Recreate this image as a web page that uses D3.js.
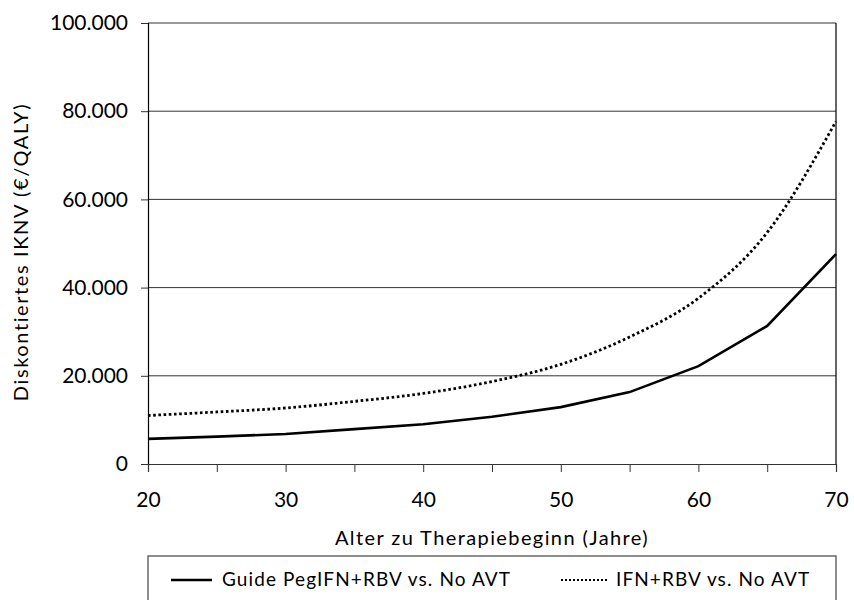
<!DOCTYPE html>
<html>
<head>
<meta charset="utf-8">
<script src="https://cdn.jsdelivr.net/npm/d3@7"></script>
<style>
  body { margin: 0; background: #fff; }
  text { font-family: Lato, "Open Sans", sans-serif; fill: #000; }
</style>
</head>
<body>
<div id="chart"></div>
<script>
// Alter zu Therapiebeginn (Jahre)
const ages = [20, 25, 30, 35, 40, 45, 50, 55, 60, 65, 70];
// Guide PegIFN+RBV vs. No AVT
const guideValues = [5700, 6200, 6800, 7900, 9000, 10700, 12900, 16300, 22200, 31300, 47600];
// IFN+RBV vs. No AVT
const ifnValues = [11000, 11800, 12700, 14200, 16000, 18700, 22600, 28800, 37600, 52500, 77700];
const xTicks = [20, 25, 30, 35, 40, 45, 50, 55, 60, 65, 70];
const yTicks = [0, 20000, 40000, 60000, 80000, 100000];

const width = 854;
const height = 600;
const margin = { top: 23, right: 18, bottom: 136, left: 148 };

const svg = d3.select("#chart")
    .append("svg")
    .attr("width", width)
    .attr("height", height);

const x = d3.scaleLinear()
    .domain([20, 70])
    .range([margin.left, width - margin.right]);

const y = d3.scaleLinear()
    .domain([0, 100000])
    .range([height - margin.bottom, margin.top]);

const fmt = d => d3.format(",")(d).replace(/,/g, ".");

// gridlines
svg.append("g")
    .selectAll("line")
    .data(yTicks.filter(d => d > 0))
    .enter()
    .append("line")
    .attr("x1", x(20))
    .attr("x2", x(70))
    .attr("y1", d => y(d))
    .attr("y2", d => y(d))
    .attr("stroke", "#333")
    .attr("stroke-width", 1);

// right border
svg.append("line")
    .attr("x1", x(70)).attr("x2", x(70))
    .attr("y1", y(100000)).attr("y2", y(0))
    .attr("stroke", "#000").attr("stroke-width", 1.2);

// Y axis
const yAxis = svg.append("g")
    .attr("transform", `translate(${margin.left}, 0)`)
    .call(d3.axisLeft(y).tickValues(yTicks).tickSize(7).tickPadding(13).tickFormat(fmt));
yAxis.selectAll("text").attr("font-size", 21);
yAxis.select(".domain").attr("stroke", "#000").attr("stroke-width", 1.2);
yAxis.selectAll(".tick line").attr("stroke", "#333");

// X axis
const xAxis = svg.append("g")
    .attr("transform", `translate(0, ${height - margin.bottom})`)
    .call(d3.axisBottom(x).tickValues(xTicks).tickSize(8).tickPadding(20)
        .tickFormat(d => d % 10 === 0 ? d : ""));
xAxis.selectAll("text").attr("font-size", 21);
xAxis.select(".domain").attr("stroke", "#333").attr("stroke-width", 1.2);
xAxis.selectAll(".tick line").attr("stroke", "#333");

// axis titles
svg.append("text")
    .attr("x", (x(20) + x(70)) / 2)
    .attr("y", 545)
    .attr("text-anchor", "middle")
    .attr("font-size", 20)
    .attr("letter-spacing", 1.4)
    .text("Alter zu Therapiebeginn (Jahre)");

svg.append("text")
    .attr("transform", `translate(28, 252) rotate(-90)`)
    .attr("text-anchor", "middle")
    .attr("font-size", 20)
    .attr("letter-spacing", 1.6)
    .text("Diskontiertes IKNV (€/QALY)");

// lines
const guideLine = d3.line()
    .x((d, i) => x(ages[i]))
    .y(d => y(d));

const ifnLine = d3.line()
    .x((d, i) => x(ages[i]))
    .y(d => y(d))
    .curve(d3.curveMonotoneX);

svg.append("path")
    .datum(ifnValues)
    .attr("fill", "none")
    .attr("stroke", "#000")
    .attr("stroke-width", 2.8)
    .attr("stroke-dasharray", "2.6 2.6")
    .attr("d", ifnLine);

svg.append("path")
    .datum(guideValues)
    .attr("fill", "none")
    .attr("stroke", "#000")
    .attr("stroke-width", 2.6)
    .attr("d", guideLine);

// legend
const legend = svg.append("g");
legend.append("rect")
    .attr("x", 148)
    .attr("y", 556)
    .attr("width", 688)
    .attr("height", 60)
    .attr("fill", "#fff")
    .attr("stroke", "#444")
    .attr("stroke-width", 1.2);

legend.append("line")
    .attr("x1", 171).attr("x2", 212)
    .attr("y1", 580).attr("y2", 580)
    .attr("stroke", "#000").attr("stroke-width", 2.6);
legend.append("text")
    .attr("x", 222).attr("y", 586)
    .attr("font-size", 19)
    .attr("letter-spacing", 1.1)
    .text("Guide PegIFN+RBV vs. No AVT");

legend.append("line")
    .attr("x1", 561).attr("x2", 607)
    .attr("y1", 580).attr("y2", 580)
    .attr("stroke", "#000").attr("stroke-width", 2)
    .attr("stroke-dasharray", "2 2");
legend.append("text")
    .attr("x", 616).attr("y", 586)
    .attr("font-size", 19)
    .attr("letter-spacing", 1.1)
    .text("IFN+RBV vs. No AVT");
</script>
</body>
</html>
